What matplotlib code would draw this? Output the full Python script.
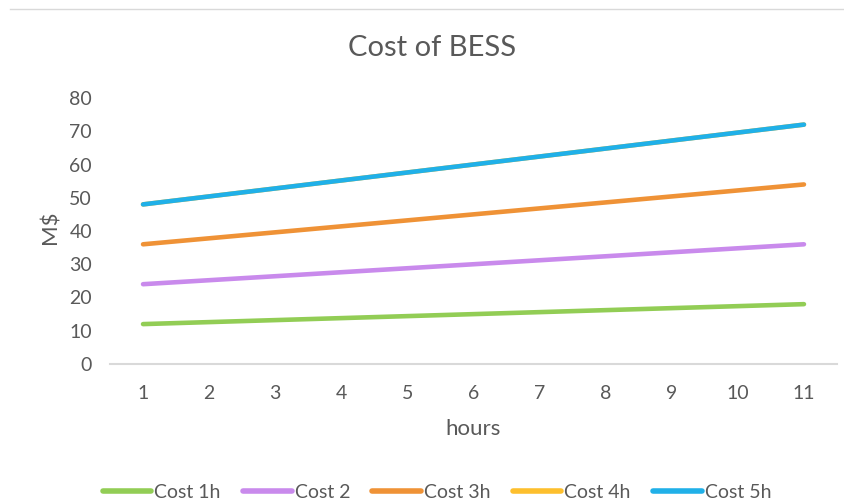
import matplotlib
matplotlib.use("Agg")
import matplotlib.pyplot as plt
from matplotlib.lines import Line2D

plt.rcParams['font.family'] = ['Lato', 'DejaVu Sans']

hours = [1, 2, 3, 4, 5, 6, 7, 8, 9, 10, 11]
cost_1h = [12, 12.6, 13.2, 13.8, 14.4, 15, 15.6, 16.2, 16.8, 17.4, 18]
cost_2 = [24, 25.2, 26.4, 27.6, 28.8, 30, 31.2, 32.4, 33.6, 34.8, 36]
cost_3h = [36, 37.8, 39.6, 41.4, 43.2, 45, 46.8, 48.6, 50.4, 52.2, 54]
cost_4h = [48, 50.4, 52.8, 55.2, 57.6, 60, 62.4, 64.8, 67.2, 69.6, 72]
cost_5h = [48, 50.4, 52.8, 55.2, 57.6, 60, 62.4, 64.8, 67.2, 69.6, 72]
series_names = ['Cost 1h', 'Cost 2', 'Cost 3h', 'Cost 4h', 'Cost 5h']
series = [cost_1h, cost_2, cost_3h, cost_4h, cost_5h]
colors = ['#92CD55', '#C98AEC', '#EF9236', '#FDBF2D', '#20B0E8']
yticks = [0, 10, 20, 30, 40, 50, 60, 70, 80]

txt = '#595959'
fig = plt.figure(figsize=(8.44, 5.03), dpi=100)
ax = fig.add_axes([110/844, 1-364/503, (837-110)/844, (364-98)/503])

for name, vals, c in zip(series_names, series, colors):
    ax.plot(hours, vals, color=c, lw=3.3, solid_capstyle='round', label=name)

ax.set_xlim(0.5, 11.5)
ax.set_ylim(0, 80)
ax.set_yticks(yticks)
ax.set_xticks(hours)
for s in ['top', 'right', 'left']:
    ax.spines[s].set_visible(False)
ax.spines['bottom'].set_color('#D9D9D9')
ax.spines['bottom'].set_linewidth(1.5)
ax.tick_params(axis='both', length=0, labelsize=14, colors=txt)
ax.tick_params(axis='x', pad=15)
ax.tick_params(axis='y', pad=13)

ax.set_xlabel('hours', fontsize=16, color=txt)
ax.set_ylabel('M$', fontsize=16, color=txt)
ax.xaxis.set_label_coords(0.5, (364-429)/266, transform=ax.transAxes)
ax.yaxis.set_label_coords((50-110)/727, (364-227)/266, transform=ax.transAxes)
ax.xaxis.label.set_va('center')
ax.yaxis.label.set_va('center')
fig.text(432/844, 1-48/503, 'Cost of BESS', fontsize=21, color=txt, ha='center', va='center')

fig.add_artist(Line2D([10/844, 1.0], [1-9/503, 1-9/503], color='#D9D9D9', lw=1, transform=fig.transFigure))

leg = fig.legend(loc='center', bbox_to_anchor=(437/844, 1-492/503), ncol=5, frameon=False,
                 fontsize=14, handlelength=2.5, handletextpad=0.15, columnspacing=1.15,
                 labelcolor=txt)
for h in leg.legend_handles:
    h.set_linewidth(4)

fig.savefig('out.png', dpi=100)
